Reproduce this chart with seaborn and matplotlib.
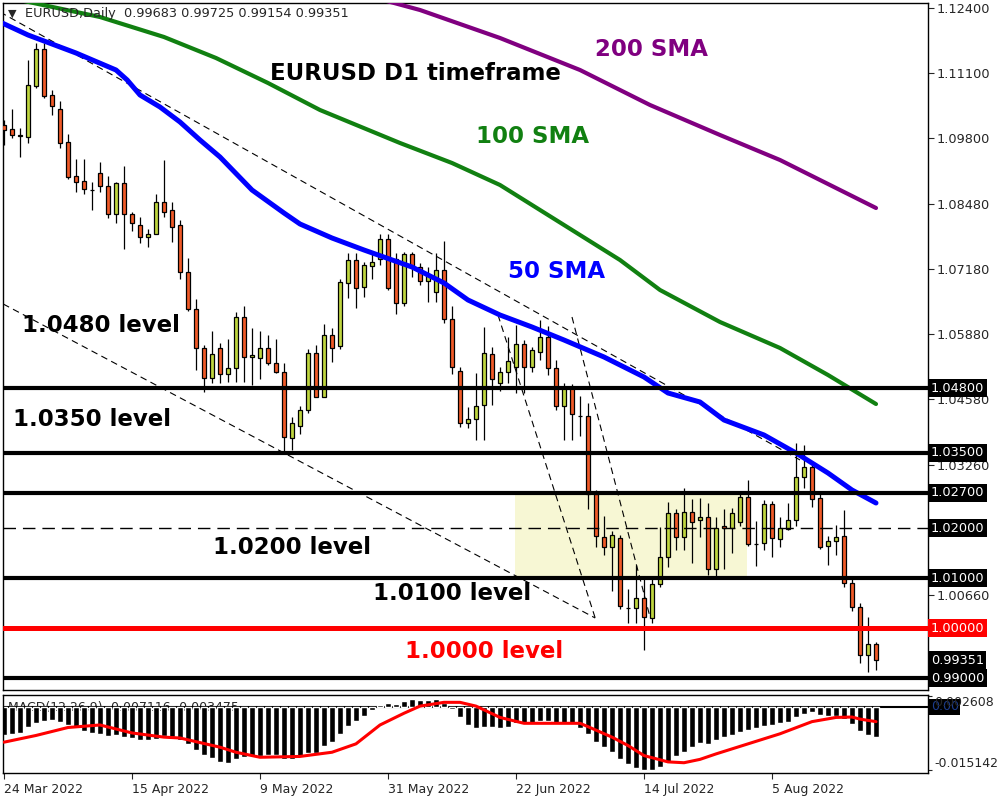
import pandas as pd
import seaborn as sns
import matplotlib.pyplot as plt
import matplotlib.transforms as mtransforms
from matplotlib.patches import Rectangle

sns.set_style('white')
plt.rcParams['font.family'] = ['DejaVu Sans']

# daily candles, 24 Mar 2022 -> 24 Aug 2022
opens = [1.1005, 1.0998, 1.0984, 1.0982, 1.1084, 1.1158, 1.1066, 1.1038, 1.0972, 1.0904,
         1.0894, 1.0876, 1.0910, 1.0884, 1.0828, 1.0890, 1.0828, 1.0806, 1.0782, 1.0788,
         1.0852, 1.0836, 1.0806, 1.0712, 1.0638, 1.0560, 1.0500, 1.0560, 1.0508, 1.0520,
         1.0622, 1.0542, 1.0540, 1.0560, 1.0530, 1.0512, 1.0380, 1.0404, 1.0436, 1.0550,
         1.0462, 1.0586, 1.0564, 1.0690, 1.0736, 1.0682, 1.0724, 1.0738, 1.0778, 1.0738,
         1.0650, 1.0748, 1.0722, 1.0694, 1.0672, 1.0716, 1.0618, 1.0514, 1.0410, 1.0418,
         1.0446, 1.0548, 1.0490, 1.0512, 1.0522, 1.0568, 1.0522, 1.0552, 1.0582, 1.0520,
         1.0444, 1.0480, 1.0424, 1.0424, 1.0268, 1.0182, 1.0162, 1.0180, 1.0040, 1.0040,
         1.0060, 1.0020, 1.0088, 1.0142, 1.0230, 1.0182, 1.0232, 1.0216, 1.0222, 1.0118,
         1.0204, 1.0200, 1.0212, 1.0262, 1.0168, 1.0170, 1.0248, 1.0178, 1.0198, 1.0216,
         1.0302, 1.0322, 1.0260, 1.0164, 1.0174, 1.0184, 1.0090, 1.0042, 0.9946, 0.99683]
highs = [1.1016, 1.1038, 1.1000, 1.1136, 1.1170, 1.1170, 1.1076, 1.1054, 1.0988, 1.0938,
         1.0938, 1.0892, 1.0932, 1.0904, 1.0892, 1.0924, 1.0832, 1.0822, 1.0798, 1.0868,
         1.0936, 1.0852, 1.0816, 1.0740, 1.0658, 1.0566, 1.0594, 1.0570, 1.0578, 1.0632,
         1.0644, 1.0600, 1.0594, 1.0586, 1.0578, 1.0530, 1.0422, 1.0444, 1.0558, 1.0566,
         1.0608, 1.0600, 1.0698, 1.0750, 1.0750, 1.0732, 1.0750, 1.0788, 1.0788, 1.0750,
         1.0752, 1.0752, 1.0730, 1.0722, 1.0750, 1.0774, 1.0644, 1.0522, 1.0442, 1.0510,
         1.0602, 1.0562, 1.0522, 1.0582, 1.0606, 1.0576, 1.0562, 1.0616, 1.0604, 1.0536,
         1.0490, 1.0488, 1.0464, 1.0450, 1.0276, 1.0224, 1.0194, 1.0186, 1.0078, 1.0126,
         1.0102, 1.0102, 1.0202, 1.0252, 1.0238, 1.0280, 1.0258, 1.0260, 1.0250, 1.0222,
         1.0238, 1.0240, 1.0274, 1.0296, 1.0214, 1.0256, 1.0254, 1.0222, 1.0250, 1.0370,
         1.0366, 1.0332, 1.0270, 1.0184, 1.0206, 1.0236, 1.0098, 1.0050, 1.0022, 0.99725]
lows = [1.0966, 1.0980, 1.0942, 1.0970, 1.1080, 1.1060, 1.1026, 1.0960, 1.0898, 1.0872,
        1.0868, 1.0836, 1.0872, 1.0820, 1.0810, 1.0758, 1.0794, 1.0770, 1.0762, 1.0788,
        1.0822, 1.0772, 1.0698, 1.0634, 1.0516, 1.0472, 1.0490, 1.0490, 1.0492, 1.0492,
        1.0492, 1.0486, 1.0498, 1.0526, 1.0510, 1.0350, 1.0356, 1.0388, 1.0430, 1.0462,
        1.0462, 1.0532, 1.0558, 1.0660, 1.0640, 1.0662, 1.0698, 1.0726, 1.0676, 1.0628,
        1.0644, 1.0702, 1.0686, 1.0652, 1.0652, 1.0610, 1.0508, 1.0402, 1.0400, 1.0376,
        1.0376, 1.0446, 1.0474, 1.0490, 1.0470, 1.0470, 1.0512, 1.0536, 1.0506, 1.0436,
        1.0376, 1.0376, 1.0384, 1.0238, 1.0162, 1.0146, 1.0074, 1.0038, 1.0010, 1.0010,
        0.9956, 1.0010, 1.0082, 1.0122, 1.0156, 1.0156, 1.0130, 1.0182, 1.0106, 1.0100,
        1.0118, 1.0150, 1.0204, 1.0164, 1.0124, 1.0156, 1.0142, 1.0162, 1.0196, 1.0204,
        1.0280, 1.0242, 1.0158, 1.0126, 1.0146, 1.0082, 1.0034, 0.9930, 0.9912, 0.99154]
closes = [1.0996, 1.0986, 1.0985, 1.1086, 1.1158, 1.1064, 1.1044, 1.0970, 1.0902, 1.0892,
          1.0878, 1.0876, 1.0884, 1.0828, 1.0890, 1.0828, 1.0810, 1.0782, 1.0788, 1.0852,
          1.0832, 1.0802, 1.0712, 1.0638, 1.0560, 1.0500, 1.0548, 1.0508, 1.0520, 1.0622,
          1.0542, 1.0546, 1.0560, 1.0530, 1.0512, 1.0382, 1.0410, 1.0436, 1.0550, 1.0462,
          1.0586, 1.0560, 1.0692, 1.0736, 1.0680, 1.0726, 1.0732, 1.0778, 1.0680, 1.0650,
          1.0748, 1.0722, 1.0694, 1.0706, 1.0716, 1.0618, 1.0522, 1.0410, 1.0418, 1.0444,
          1.0550, 1.0498, 1.0512, 1.0534, 1.0568, 1.0522, 1.0556, 1.0582, 1.0520, 1.0444,
          1.0480, 1.0428, 1.0424, 1.0268, 1.0184, 1.0162, 1.0186, 1.0044, 1.0040, 1.0060,
          1.0022, 1.0088, 1.0142, 1.0230, 1.0182, 1.0232, 1.0212, 1.0222, 1.0118, 1.0200,
          1.0200, 1.0230, 1.0262, 1.0168, 1.0168, 1.0248, 1.0180, 1.0200, 1.0216, 1.0302,
          1.0322, 1.0258, 1.0162, 1.0174, 1.0182, 1.0090, 1.0042, 0.9946, 0.9968, 0.99351]

# moving averages (bar index, price)
sma50_idx = [-0.5, 3, 9, 14, 15.4, 17, 19.5, 22, 24.5, 27, 31, 35,
             37, 41, 45, 51, 55, 58, 62, 66, 70, 75, 80, 83, 87, 90, 95, 99, 103, 106, 109]
sma50_val = [1.1212, 1.1186, 1.1150, 1.1116, 1.1096, 1.1066, 1.1042, 1.1012,
             1.0976, 1.0942, 1.0876, 1.0830, 1.0808, 1.0780, 1.0756, 1.0722,
             1.0690, 1.0656, 1.0626, 1.0602, 1.0576, 1.0542, 1.0502, 1.0470, 1.0452, 1.0416,
             1.0386, 1.0350, 1.0310, 1.0276, 1.0250]
sma100_idx = [2.5, 12, 20, 26.5, 33, 39.5, 49.5, 56, 62, 69, 77, 82, 89.5, 97, 103, 109]
sma100_val = [1.1254, 1.1222, 1.1182, 1.1140, 1.1090, 1.1036, 1.0970, 1.0930, 1.0886,
              1.0816, 1.0736, 1.0676, 1.0612, 1.0560, 1.0506, 1.0448]
sma200_idx = [46, 52, 62, 72, 80.75, 89.5, 97, 103.25, 109]
sma200_val = [1.1262, 1.1236, 1.1180, 1.1116, 1.1046, 1.0986, 1.0936, 1.0886, 1.0840]

# MACD(12,26,9) histogram and signal
macd_hist = [-0.00659, -0.00635, -0.00619, -0.00488, -0.00374, -0.00326, -0.00309, -0.00366,
             -0.00431, -0.00488, -0.00570, -0.00619, -0.00635, -0.00692, -0.00676, -0.00716,
             -0.00741, -0.00798, -0.00781, -0.00757, -0.00700, -0.00716, -0.00781, -0.00879,
             -0.01026, -0.01148, -0.01229, -0.01302, -0.01327, -0.01245, -0.01205, -0.01164,
             -0.01180, -0.01148, -0.01140, -0.01245, -0.01245, -0.01205, -0.01107, -0.01099,
             -0.00936, -0.00847, -0.00635, -0.00456, -0.00326, -0.00212, -0.00081, 0.00057,
             0.00098, 0.00081, 0.00138, 0.00179, 0.00155, 0.00163, 0.00179, 0.00098,
             -0.00049, -0.00244, -0.00431, -0.00497, -0.00472, -0.00488, -0.00497, -0.00472,
             -0.00374, -0.00415, -0.00391, -0.00326, -0.00334, -0.00391, -0.00391, -0.00407,
             -0.00497, -0.00635, -0.00838, -0.00961, -0.01083, -0.01245, -0.01368, -0.01449,
             -0.01514, -0.01506, -0.01433, -0.01327, -0.01180, -0.01083, -0.00961, -0.00863,
             -0.00879, -0.00781, -0.00716, -0.00659, -0.00594, -0.00554, -0.00513, -0.00456,
             -0.00431, -0.00391, -0.00366, -0.00244, -0.00163, -0.00130, -0.00187, -0.00212,
             -0.00212, -0.00293, -0.00415, -0.00570, -0.00659, -0.00712]
sig_idx = [0, 4, 8, 12, 16, 20, 22, 27, 29, 32, 37, 41, 44, 47, 50, 52, 55, 57, 59, 62,
           65, 68, 72, 73, 76, 78, 80, 83, 85, 87, 89, 93, 97, 101, 104, 106, 107, 109]
sig_val = [-0.0084, -0.0068, -0.0049, -0.0043, -0.0062, -0.0072, -0.0074, -0.0096, -0.0108,
           -0.0120, -0.0118, -0.0108, -0.0088, -0.0043, -0.0015, 0.0002, 0.0011, 0.0011,
           0.0002, -0.0025, -0.0039, -0.0039, -0.0039, -0.0047, -0.0072, -0.0092, -0.0116,
           -0.0131, -0.0133, -0.0125, -0.0112, -0.0088, -0.0064, -0.0035, -0.0025, -0.0024,
           -0.0029, -0.0035]

price_ticks = [1.124, 1.111, 1.098, 1.0848, 1.0718, 1.0588, 1.0458, 1.0326, 1.0066]
date_pos = [0, 16, 32, 48, 64, 80, 96]
date_labels = ['24 Mar 2022', '15 Apr 2022', '9 May 2022', '31 May 2022',
               '22 Jun 2022', '14 Jul 2022', '5 Aug 2022']

df = pd.DataFrame({'open': opens, 'high': highs, 'low': lows, 'close': closes})
df['i'] = range(len(df))
df['body_lo'] = df[['open', 'close']].min(axis=1)
df['body_h'] = (df['close'] - df['open']).abs()
df['col'] = ['#bfd640' if c >= o else '#f05a28' for o, c in zip(df['open'], df['close'])]

fig = plt.figure(figsize=(10, 8), dpi=100)
ax = fig.add_axes([0.003, 0.1375, 0.925, 0.85875])
ax2 = fig.add_axes([0.003, 0.03375, 0.925, 0.0975])

# consolidation box
ax.add_patch(Rectangle((63.9, 1.010), 29, 0.017, facecolor='#f7f7d4', edgecolor='none', zorder=0.5))

# trend lines
dash = (0, (6, 4))
for (x0, y0), (x1, y1) in [((-0.5, 1.1232), (99.5, 1.0336)),
                           ((-0.1, 1.0648), (73.9, 1.0020)),
                           ((61.75, 1.0626), (73.9, 1.0020)),
                           ((71, 1.0622), (80.75, 1.0022))]:
    ax.plot([x0, x1], [y0, y1], color='black', lw=0.8, linestyle=dash, zorder=1)

# candles
ax.vlines(df['i'], df['low'], df['high'], color='black', lw=0.9, zorder=3)
ax.bar(df['i'], df['body_h'], bottom=df['body_lo'], width=0.6, color=df['col'],
       edgecolor='black', linewidth=0.9, zorder=4)

# moving averages
sns.lineplot(x=sma200_idx, y=sma200_val, color='#800080', lw=3, ax=ax, zorder=5)
sns.lineplot(x=sma100_idx, y=sma100_val, color='#118011', lw=3, ax=ax, zorder=5)
sns.lineplot(x=sma50_idx, y=sma50_val, color='#0000ff', lw=3.6, ax=ax, zorder=5)

# horizontal levels
for lv in [1.048, 1.035, 1.027, 1.01, 0.99]:
    ax.axhline(lv, color='black', lw=3, zorder=6)
ax.axhline(1.02, color='black', lw=1, linestyle=(0, (9, 5)), zorder=6)
ax.axhline(1.0, color='#ff0000', lw=3.6, zorder=6)

ax.set_xlim(-0.125, 115.5)
ax.set_ylim(0.9876, 1.1250)
ax.set_xticks([])
ax.yaxis.tick_right()
ax.set_yticks(price_ticks)
ax.set_yticklabels([f'{p:.5f}' for p in price_ticks])
ax.tick_params(axis='y', direction='out', length=4, width=0.8, labelsize=9.3, pad=2, right=True)
for s in ax.spines.values():
    s.set_color('black')
    s.set_linewidth(1)

# price boxes on the scale
trans = mtransforms.blended_transform_factory(ax.transAxes, ax.transData)
for p, lab, bg in [(1.048, '1.04800', 'black'), (1.035, '1.03500', 'black'),
                   (1.027, '1.02700', 'black'), (1.02, '1.02000', 'black'),
                   (1.01, '1.01000', 'black'), (1.0, '1.00000', '#ff0000'),
                   (0.99351, '0.99351', 'black'), (0.99, '0.99000', 'black')]:
    ax.text(1.003, p, lab, transform=trans, ha='left', va='center', color='white',
            fontsize=9.3, bbox=dict(facecolor=bg, edgecolor='none', pad=1.8), zorder=10)

# annotations
bold = dict(fontsize=16.5, fontweight='bold', va='center', ha='left', zorder=8)
ax.text(33.25, 1.1108, 'EURUSD D1 timeframe', color='black', **bold)
ax.text(73.9, 1.1156, '200 SMA', color='#800080', **bold)
ax.text(59, 1.0982, '100 SMA', color='#118011', **bold)
ax.text(63, 1.0712, '50 SMA', color='#0000ff', **bold)
ax.text(2.25, 1.0604, '1.0480 level', color='black', **bold)
ax.text(1.1, 1.0416, '1.0350 level', color='black', **bold)
ax.text(26.1, 1.0160, '1.0200 level', color='black', **bold)
ax.text(46.1, 1.0070, '1.0100 level', color='black', **bold)
ax.text(50.1, 0.9954, '1.0000 level', color='#ff0000', **bold)

ax.text(0.0098, 0.984, '\u25bc', transform=ax.transAxes, fontsize=8, va='center', ha='center', zorder=8)
ax.text(0.0238, 0.984, 'EURUSD,Daily  0.99683 0.99725 0.99154 0.99351',
        transform=ax.transAxes, fontsize=9.3, va='center', ha='left', zorder=8)

# MACD panel
ax2.text(0.0054, 0.84, 'MACD(12,26,9) -0.007116 -0.003475', transform=ax2.transAxes,
         fontsize=9, va='center', ha='left', zorder=0.5)
sns.barplot(x=list(range(len(macd_hist))), y=macd_hist, native_scale=True, color='black',
            saturation=1, width=0.72, errorbar=None, ax=ax2, zorder=2)
sns.lineplot(x=sig_idx, y=sig_val, color='#ff0000', lw=2.2, ax=ax2, zorder=3)
ax2.axhline(0, color='black', lw=1.5, zorder=1.5)
ax2.set_xlim(-0.125, 115.5)
ax2.set_ylim(-0.01575, 0.00285)
ax2.set_xlabel('')
ax2.set_ylabel('')
ax2.yaxis.tick_right()
ax2.set_yticks([0.002608, -0.015142])
ax2.set_yticklabels(['0.002608', '-0.015142'])
ax2.tick_params(axis='y', direction='out', length=3, width=0.8, labelsize=9, pad=1.5, right=True)
ylabs = ax2.get_yticklabels()
ylabs[0].set_va('top')
ylabs[1].set_va('bottom')
trans2 = mtransforms.blended_transform_factory(ax2.transAxes, ax2.transData)
ax2.text(1.003, 0, '0.00', transform=trans2, ha='left', va='center', color='#1c3c8c',
         fontsize=9, bbox=dict(facecolor='black', edgecolor='none', pad=1), zorder=0.4)
ax2.set_xticks(date_pos)
ax2.set_xticklabels(date_labels)
ax2.tick_params(axis='x', direction='out', length=4, width=0.8, labelsize=9, pad=3, bottom=True)
for lab in ax2.get_xticklabels():
    lab.set_ha('left')
for s in ax2.spines.values():
    s.set_color('black')
    s.set_linewidth(1)

fig.savefig('out.png', dpi=100)
